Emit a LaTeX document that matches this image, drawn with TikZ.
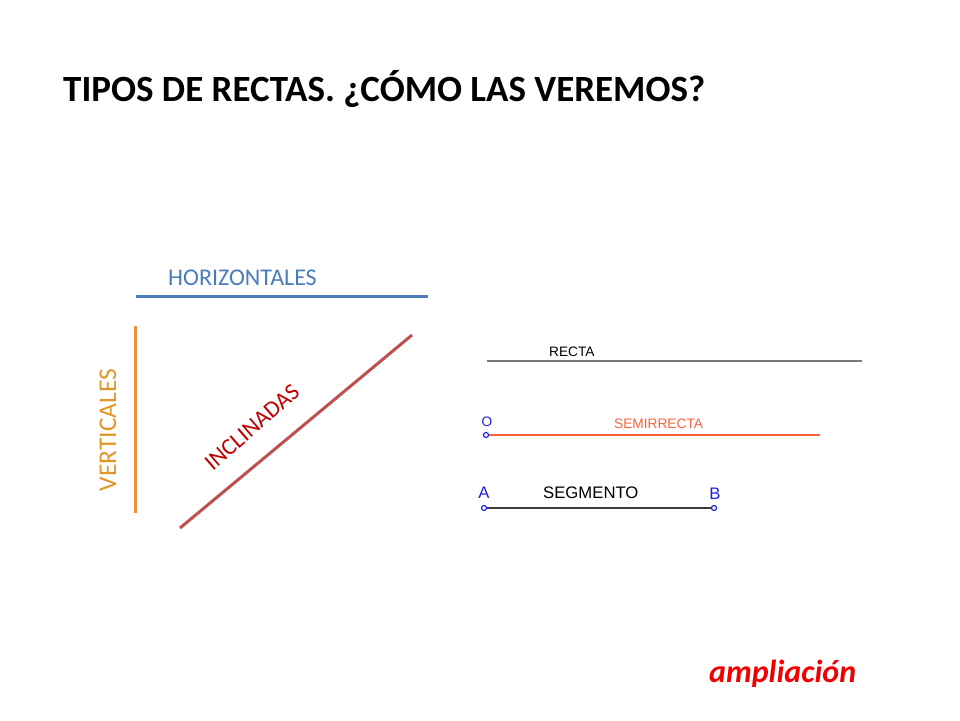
\documentclass[tikz,border=0pt]{standalone}
\usepackage{fontspec}
\setmainfont{Carlito}
\newfontfamily\arialf{Liberation Sans}
\definecolor{hblue}{RGB}{74,126,187}
\definecolor{vorange}{RGB}{235,145,60}
\definecolor{vtext}{RGB}{226,150,40}
\definecolor{ired}{RGB}{192,80,77}
\definecolor{itext}{RGB}{192,0,0}
\definecolor{ggblue}{RGB}{30,30,230}
\definecolor{semi}{RGB}{255,95,60}
\definecolor{rgray}{RGB}{120,120,120}
\definecolor{sgray}{RGB}{60,60,60}
\definecolor{ampred}{RGB}{240,0,0}
\tikzset{
  bigline/.style={line width=3pt},
  lbl/.style={inner sep=0pt, font=\fontsize{24}{26}\selectfont},
  gg/.style={inner sep=0pt, font=\arialf\fontsize{13.7}{15}\selectfont},
  ggbig/.style={inner sep=0pt, font=\arialf\fontsize{16.7}{18}\selectfont},
  ggpt/.style={circle, draw=ggblue, line width=1.2pt, minimum size=5pt, inner sep=0pt, fill=white}
}
\begin{document}
\begin{tikzpicture}[x=1pt,y=-1pt]
\useasboundingbox (0,0) rectangle (960,720);
\fill[white] (0,0) rectangle (960,720);
% title
\node[anchor=base west, inner sep=0pt, font=\bfseries\fontsize{37}{40}\selectfont] (title) at (63,101) {TIPOS DE RECTAS. ¿CÓMO LAS VEREMOS?};
% left panel
\coordinate (h1) at (136,296); \coordinate (h2) at (428,296);
\draw[hblue, bigline] (h1) -- (h2);
\node[lbl, text=hblue, anchor=base west] (htext) at (168,285) {HORIZONTALES};
\coordinate (v1) at (135,326); \coordinate (v2) at (135,513);
\draw[vorange, bigline] (v1) -- (v2);
\node[lbl, text=vtext, rotate=90, anchor=base, font=\fontsize{25.5}{27}\selectfont] (vtext) at (116,430) {VERTICALES};
\coordinate (i1) at (180,528); \coordinate (i2) at (412,335);
\draw[ired, bigline] (i1) -- (i2);
\node[lbl, text=itext, rotate=41, anchor=base, font=\fontsize{23.5}{25}\selectfont] (itext) at (257,433) {INCLINADAS};
% right panel
\coordinate (r1) at (487,361); \coordinate (r2) at (862,361);
\draw[rgray, line width=1.5pt] (r1) -- (r2);
\node[gg, anchor=base west] (recta) at (549,356) {RECTA};
\node[ggpt] (O) at (486,435) {};
\coordinate (s2) at (820,435);
\draw[semi, line width=1.5pt] (O) -- (s2);
\node[gg, text=ggblue, anchor=base] (Olab) at (487,426) {O};
\node[gg, text=semi, anchor=base west] (semitext) at (614,428) {SEMIRRECTA};
\node[ggpt] (A) at (484,508) {};
\node[ggpt] (B) at (714,508) {};
\draw[sgray, line width=1.5pt] (A) -- (B);
\node[ggbig, text=ggblue, anchor=base] (Alab) at (484,498) {A};
\node[ggbig, text=ggblue, anchor=base] (Blab) at (715,499) {B};
\node[ggbig, anchor=base west] (segtext) at (543,498) {SEGMENTO};
% ampliacion
\node[anchor=base west, inner sep=0pt, text=ampred, font=\bfseries\itshape\fontsize{32}{34}\selectfont] (amp) at (709,682) {ampliación};
\end{tikzpicture}
\end{document}
